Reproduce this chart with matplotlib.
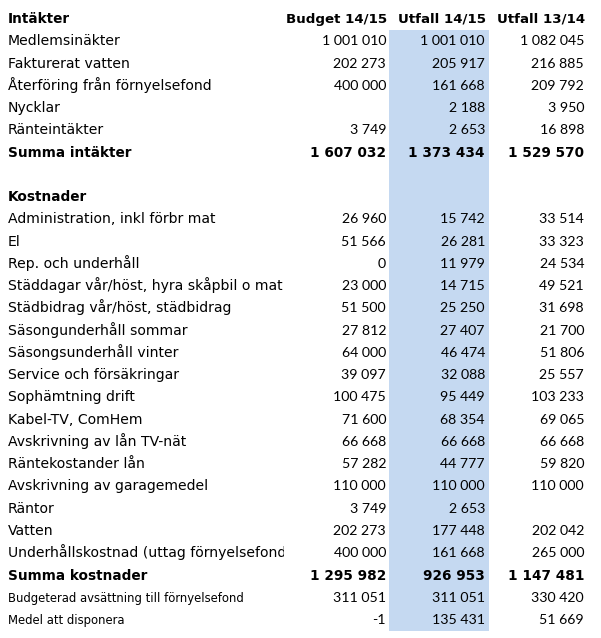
import matplotlib
matplotlib.use("Agg")
import matplotlib.pyplot as plt
from matplotlib.patches import Rectangle

headers = ["Intäkter", "Budget 14/15", "Utfall 14/15", "Utfall 13/14"]
labels = ["Medlemsinäkter", "Fakturerat vatten", "Återföring från förnyelsefond", "Nycklar",
          "Ränteintäkter", "Summa intäkter", "", "Kostnader",
          "Administration, inkl förbr mat", "El", "Rep. och underhåll",
          "Städdagar vår/höst, hyra skåpbil o mat", "Städbidrag vår/höst, städbidrag",
          "Säsongunderhåll sommar", "Säsongsunderhåll vinter", "Service och försäkringar",
          "Sophämtning drift", "Kabel-TV, ComHem", "Avskrivning av lån TV-nät",
          "Räntekostander lån", "Avskrivning av garagemedel", "Räntor", "Vatten",
          "Underhållskostnad (uttag förnyelsefond)", "Summa kostnader",
          "Budgeterad avsättning till förnyelsefond", "Medel att disponera"]
budget_1415 = [1001010, 202273, 400000, None, 3749, 1607032, None, None,
               26960, 51566, 0, 23000, 51500, 27812, 64000, 39097, 100475, 71600,
               66668, 57282, 110000, 3749, 202273, 400000, 1295982, 311051, -1]
utfall_1415 = [1001010, 205917, 161668, 2188, 2653, 1373434, None, None,
               15742, 26281, 11979, 14715, 25250, 27407, 46474, 32088, 95449, 68354,
               66668, 44777, 110000, 2653, 177448, 161668, 926953, 311051, 135431]
utfall_1314 = [1082045, 216885, 209792, 3950, 16898, 1529570, None, None,
               33514, 33323, 24534, 49521, 31698, 21700, 51806, 25557, 103233, 69065,
               66668, 59820, 110000, None, 202042, 265000, 1147481, 330420, 51669]
bold_rows = {"Summa intäkter", "Kostnader", "Summa kostnader"}
small_rows = {"Budgeterad avsättning till förnyelsefond", "Medel att disponera"}

W, H = 601, 638
fig = plt.figure(figsize=(W / 100, H / 100), dpi=100)
ax = fig.add_axes([0, 0, 1, 1])
ax.set_xlim(0, W)
ax.set_ylim(H, 0)
ax.axis("off")

label_font = "DejaVu Sans"
num_font = "Lato"
y0 = 18
dy = 22.26
base = 5  # baseline offset below row centre
label_x = 8
col_right = [386, 485, 584]

ax.add_patch(Rectangle((389, 30), 100, 601, facecolor="#c5d9f1", edgecolor="none", zorder=0))

def fmt(v):
    if v is None:
        return ""
    s = f"{abs(v):,}".replace(",", " ")
    return ("-" if v < 0 else "") + s

# header
ax.text(label_x, y0 + base, headers[0], fontsize=9.8, fontweight="bold", family=label_font,
        ha="left", va="baseline")
for j, h in enumerate(headers[1:]):
    ax.text(col_right[j] + 1, y0 + base, h, fontsize=9.6, fontweight="bold", family=label_font,
            ha="right", va="baseline")

clip = Rectangle((0, 0), 284, H, transform=ax.transData)
for i, lab in enumerate(labels):
    y = y0 + (i + 1) * dy + base
    bold = lab in bold_rows
    small = lab in small_rows
    t = ax.text(label_x, y, lab, fontsize=8.4 if small else (9.8 if bold else 10.1),
                fontweight="bold" if bold else "normal", family=label_font,
                ha="left", va="baseline")
    t.set_clip_path(clip)
    t.set_clip_on(True)
    for j, series in enumerate([budget_1415, utfall_1415, utfall_1314]):
        v = series[i]
        if bold:
            ax.text(col_right[j], y, fmt(v), fontsize=9.8, fontweight="bold",
                    family=label_font, ha="right", va="baseline")
        else:
            ax.text(col_right[j], y, fmt(v), fontsize=10.2, family=num_font,
                    ha="right", va="baseline")

fig.savefig("out.png", dpi=100)
